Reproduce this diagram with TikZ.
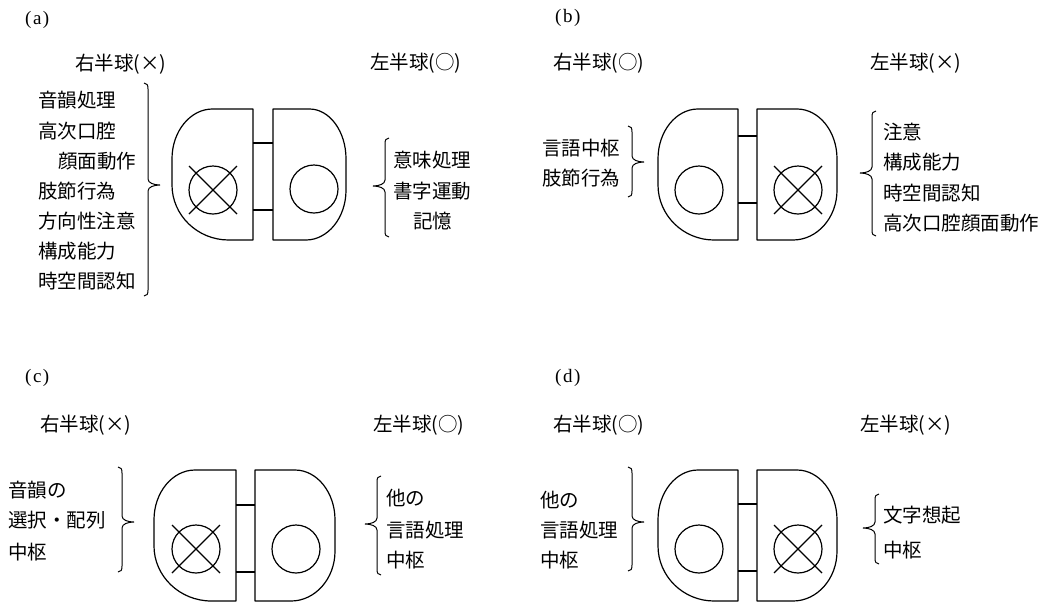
\documentclass[tikz,border=0pt]{standalone}
\usepackage{fontspec}
\newfontfamily\jp{Noto Sans CJK JP}
\newfontfamily\serifl{Liberation Serif}
\tikzset{
  ln/.style={line width=1.2pt, line join=round},
  bl/.style={line width=1pt},
  jt/.style={font=\jp\fontsize{19.5}{22}\selectfont, inner sep=0pt, anchor=west},
  pl/.style={font=\serifl\fontsize{19}{21}\selectfont, inner sep=0pt, anchor=west},
}
% left hemisphere outline: xl xr yt yb
\newcommand\hemiL[4]{%
  \draw[ln] (#2,#3) -- ({#1+0.5*(#2-#1)},#3)
    .. controls ({#1+0.225*(#2-#1)},#3) and (#1,{#3+0.171*(#4-#3)}) .. (#1,{#3+0.38*(#4-#3)})
    -- (#1,{#3+0.58*(#4-#3)})
    .. controls (#1,{#3+0.811*(#4-#3)}) and ({#1+0.315*(#2-#1)},#4) .. ({#1+0.7*(#2-#1)},#4)
    -- (#2,#4) -- cycle;}
% right hemisphere outline: xl xr yt yb
\newcommand\hemiR[4]{%
  \draw[ln] (#1,#3) -- ({#2-0.5*(#2-#1)},#3)
    .. controls ({#2-0.225*(#2-#1)},#3) and (#2,{#3+0.171*(#4-#3)}) .. (#2,{#3+0.38*(#4-#3)})
    -- (#2,{#3+0.62*(#4-#3)})
    .. controls (#2,{#3+0.829*(#4-#3)}) and ({#2-0.2475*(#2-#1)},#4) .. ({#2-0.55*(#2-#1)},#4)
    -- (#1,#4) -- cycle;}
% circle: cx cy
\newcommand\okcirc[2]{\draw[ln] (#1,#2) circle[radius=24pt];}
\newcommand\ngcirc[2]{\draw[ln] (#1,#2) circle[radius=24pt];
  \draw[ln] ({#1-24},{#2-24}) -- ({#1+24},{#2+24});
  \draw[ln] ({#1-24},{#2+24}) -- ({#1+24},{#2-24});}
% curly brace: x y1 y2 ym dir (1 = tip right, -1 = tip left)
\newcommand\cbrace[5]{%
  \draw[bl] ({#1-4*#5},#2) .. controls ({#1-1*#5},#2) and (#1,{#2+2}) .. (#1,{#2+6})
    -- (#1,{#4-6}) .. controls (#1,{#4-2}) and ({#1+6*#5},#4) .. ({#1+12*#5},#4)
    .. controls ({#1+6*#5},#4) and (#1,{#4+2}) .. (#1,{#4+6})
    -- (#1,{#3-6}) .. controls (#1,{#3-2}) and ({#1-1*#5},#3) .. ({#1-4*#5},#3);}
\newcommand\plab[1]{(\kern1.5pt #1\kern1.5pt)}
\begin{document}
\begin{tikzpicture}[x=1pt,y=-1pt]
\useasboundingbox (0,0) rectangle (1054,603);
% ---------------- (a)
\node[pl] (la) at (25,20) {\plab{a}};
\node[jt] (ha1) at (75,64) {右半球(×)};
\node[jt] (ha2) at (370,63) {左半球(○)};
\hemiL{172}{253}{109}{240}
\hemiR{273}{346}{109}{240}
\coordinate (a1) at (253,143); \coordinate (a2) at (273,143);
\coordinate (a3) at (253,210); \coordinate (a4) at (273,210);
\draw[ln] (a1) -- (a2); \draw[ln] (a3) -- (a4);
\ngcirc{213}{190}
\okcirc{314}{189}
\node[jt] (ta1) at (38,100) {音韻処理};
\node[jt] (ta2) at (38,131) {高次口腔};
\node[jt] (ta3) at (58,161) {顔面動作};
\node[jt] (ta4) at (38,191) {肢節行為};
\node[jt] (ta5) at (38,221) {方向性注意};
\node[jt] (ta6) at (38,251) {構成能力};
\node[jt] (ta7) at (38,281) {時空間認知};
\cbrace{148}{83}{296}{185}{1}
\cbrace{385}{138}{237}{186}{-1}
\node[jt] (ra1) at (393,160) {意味処理};
\node[jt] (ra2) at (393,191) {書字運動};
\node[jt] (ra3) at (413,221) {記憶};
% ---------------- (b)
\node[pl] (lb) at (555,18) {\plab{b}};
\node[jt] (hb1) at (553,63) {右半球(○)};
\node[jt] (hb2) at (870,63) {左半球(×)};
\hemiL{658}{738}{109}{240}
\hemiR{757}{837}{109}{240}
\coordinate (b1) at (738,136); \coordinate (b2) at (757,136);
\coordinate (b3) at (738,203); \coordinate (b4) at (757,203);
\draw[ln] (b1) -- (b2); \draw[ln] (b3) -- (b4);
\okcirc{699}{190}
\ngcirc{798}{190}
\node[jt] (tb1) at (542,148) {言語中枢};
\node[jt] (tb2) at (542,178) {肢節行為};
\cbrace{632}{126}{197}{162}{1}
\cbrace{872}{111}{236}{173}{-1}
\node[jt] (rb1) at (883,132) {注意};
\node[jt] (rb2) at (883,162) {構成能力};
\node[jt] (rb3) at (883,193) {時空間認知};
\node[jt] (rb4) at (883,223) {高次口腔顔面動作};
% ---------------- (c)
\node[pl] (lc) at (25,378) {\plab{c}};
\node[jt] (hc1) at (40,425) {右半球(×)};
\node[jt] (hc2) at (373,425) {左半球(○)};
\hemiL{154}{236}{470}{601}
\hemiR{255}{335}{470}{601}
\coordinate (c1) at (236,505); \coordinate (c2) at (255,505);
\coordinate (c3) at (236,572); \coordinate (c4) at (255,572);
\draw[ln] (c1) -- (c2); \draw[ln] (c3) -- (c4);
\ngcirc{196}{549}
\okcirc{296}{549}
\node[jt] (tc1) at (8,490) {音韻の};
\node[jt] (tc2) at (8,520) {選択・配列};
\node[jt] (tc3) at (8,552) {中枢};
\cbrace{122}{467}{572}{522}{1}
\cbrace{377}{476}{575}{524}{-1}
\node[jt] (rc1) at (386,498) {他の};
\node[jt] (rc2) at (386,530) {言語処理};
\node[jt] (rc3) at (386,560) {中枢};
% ---------------- (d)
\node[pl] (ld) at (555,378) {\plab{d}};
\node[jt] (hd1) at (553,425) {右半球(○)};
\node[jt] (hd2) at (860,425) {左半球(×)};
\hemiL{658}{738}{470}{601}
\hemiR{757}{837}{470}{601}
\coordinate (d1) at (738,504); \coordinate (d2) at (757,504);
\coordinate (d3) at (738,571); \coordinate (d4) at (757,571);
\draw[ln] (d1) -- (d2); \draw[ln] (d3) -- (d4);
\okcirc{699}{549}
\ngcirc{798}{549}
\node[jt] (td1) at (540,500) {他の};
\node[jt] (td2) at (540,530) {言語処理};
\node[jt] (td3) at (540,560) {中枢};
\cbrace{632}{467}{571}{522}{1}
\cbrace{875}{494}{564}{528}{-1}
\node[jt] (rd1) at (883,515) {文字想起};
\node[jt] (rd2) at (883,550) {中枢};
\end{tikzpicture}
\end{document}
